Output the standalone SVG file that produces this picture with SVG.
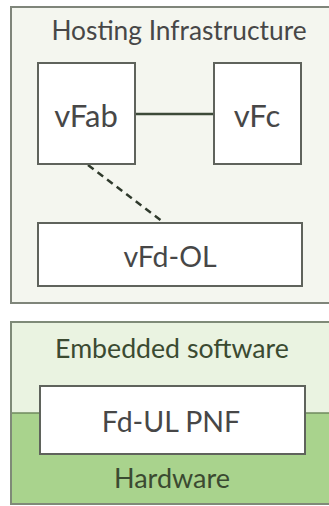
<svg xmlns="http://www.w3.org/2000/svg" width="329" height="506" viewBox="0 0 329 506">
<style>
.box{fill:#ffffff;stroke:#5f635c;stroke-width:2}
.t{font-family:Lato,"Open Sans","Liberation Sans",sans-serif;fill:#474747;text-anchor:middle}
.g{fill:#3b4a31}
</style>
<rect width="329" height="506" fill="#ffffff"/>
<g id="hosting">
<rect x="11" y="7" width="330" height="296" fill="#f4f6ef" stroke="#7f857a" stroke-width="2"/>
<text class="t" x="179" y="40" font-size="26.3">Hosting Infrastructure</text>
</g>
<g id="connectors">
<line x1="135" y1="114" x2="214" y2="114" stroke="#3c4a38" stroke-width="2.5"/>
<line x1="88" y1="165" x2="163" y2="222" stroke="#2f3a2c" stroke-width="2.5" stroke-dasharray="7,5"/>
</g>
<g id="vFab">
<rect class="box" x="38" y="63" width="97" height="101"/>
<text class="t" x="86" y="127" font-size="31">vFab</text>
</g>
<g id="vFc">
<rect class="box" x="214" y="63" width="87" height="101"/>
<text class="t" x="257" y="127" font-size="31">vFc</text>
</g>
<g id="vFd-OL">
<rect class="box" x="38" y="223" width="264" height="63"/>
<text class="t" x="170" y="267" font-size="28.5">vFd-OL</text>
</g>
<g id="pnf">
<rect x="11" y="322" width="330" height="91" fill="#eaf3e1"/>
<rect x="11" y="413" width="330" height="91" fill="#a9d38d"/>
<line x1="11" y1="413" x2="340" y2="413" stroke="#6f8a5e" stroke-width="1.5"/>
<rect x="11" y="322" width="330" height="182" fill="none" stroke="#7f8a78" stroke-width="2"/>
<text class="t g" x="172" y="358" font-size="26.7">Embedded software</text>
<text class="t g" x="172" y="488" font-size="27">Hardware</text>
</g>
<g id="fd-ul">
<rect class="box" x="40" y="386" width="265" height="68"/>
<text class="t" x="171" y="432" font-size="28.5">Fd-UL PNF</text>
</g>
</svg>
